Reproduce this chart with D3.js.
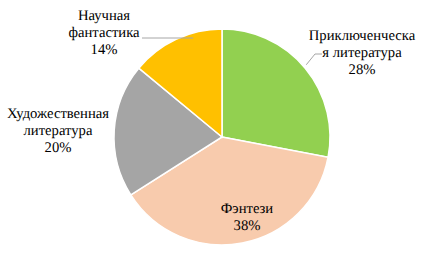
<!DOCTYPE html>
<html>
<head>
<meta charset="utf-8">
<script src="https://cdn.jsdelivr.net/npm/d3@7"></script>
<style>
  html, body { margin: 0; padding: 0; background: #fff; }
</style>
</head>
<body>
<div class="container"></div>
<script>
// genres, clockwise from 12 o'clock
const categories = ['Приключенческая литература', 'Фэнтези', 'Художественная литература', 'Научная фантастика'];
const values = [28, 38, 20, 14];
const colors = ['#92D050', '#F8CBAD', '#A5A5A5', '#FFC000'];
// label lines as they wrap in the picture
const labelLines = [
    ['Приключенческа', 'я литература', '28%'],
    ['Фэнтези', '38%'],
    ['Художественная', 'литература', '20%'],
    ['Научная', 'фантастика', '14%']
];

function chart(width = 426, height = 260) {
    const cx = 222, cy = 137, r = 108;

    const svg = d3.select('.container')
        .append('svg')
        .attr('width', width)
        .attr('height', height);

    const pie = d3.pie().sort(null).value(d => d)(values);
    const arc = d3.arc().innerRadius(0).outerRadius(r);

    const g = svg.append('g').attr('transform', `translate(${cx},${cy})`);

    g.selectAll('path.slice')
        .data(pie)
        .join('path')
        .attr('class', 'slice')
        .attr('d', arc)
        .attr('fill', (d, i) => colors[i])
        .attr('stroke', '#fff')
        .attr('stroke-width', 1.5);

    // label anchors (center x, first baseline), relative to the pie center
    const labelPos = [
        [140, -97],
        [25, 76],
        [-164, -19],
        [-118, -117]
    ];
    const lineH = 17;

    const labels = g.selectAll('text.lbl')
        .data(pie)
        .join('text')
        .attr('class', 'lbl')
        .attr('fill', '#000')
        .style('font-family', "'Liberation Serif', 'Times New Roman', serif")
        .style('font-size', '14.67px')
        .style('text-rendering', 'geometricPrecision')
        .attr('text-anchor', 'middle');

    labels.each(function (d, i) {
        d3.select(this).selectAll('tspan')
            .data(labelLines[i])
            .join('tspan')
            .attr('x', labelPos[i][0])
            .attr('y', (t, j) => labelPos[i][1] + j * lineH)
            .text(t => t);
    });

    // leader lines
    const leader = d3.line();
    const edge = (d, k, rr) => {
        const a = d.startAngle + (d.endAngle - d.startAngle) * k;
        return [Math.sin(a) * rr, -Math.cos(a) * rr];
    };
    const green = edge(pie[0], 0.49, r + 3);
    const yellow = edge(pie[3], 0.72, r + 2);
    g.append('path')
        .attr('d', leader([[100, -83], [93, -83], green]))
        .attr('fill', 'none')
        .attr('stroke', '#A6A6A6')
        .attr('stroke-width', 1);
    g.append('path')
        .attr('d', leader([[-80, -99], [yellow[0] - 2, -99]]))
        .attr('fill', 'none')
        .attr('stroke', '#A6A6A6')
        .attr('stroke-width', 1);

    return svg.node();
}

chart();
</script>
</body>
</html>
